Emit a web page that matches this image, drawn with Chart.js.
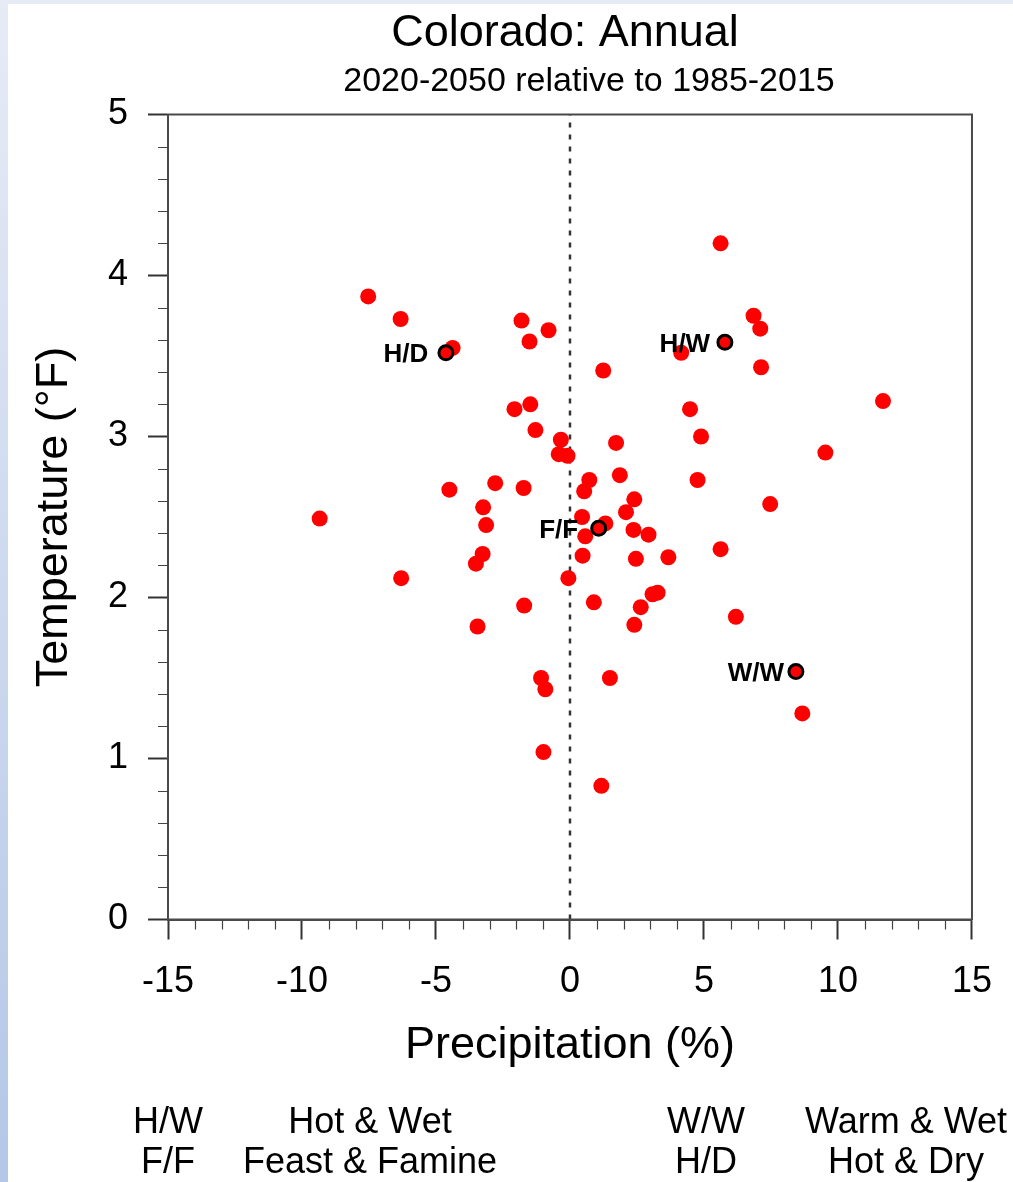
<!DOCTYPE html>
<html>
<head>
<meta charset="utf-8">
<script src="https://cdn.jsdelivr.net/npm/chart.js@4.4.1/dist/chart.umd.min.js"></script>
<style>
  html, body { margin: 0; padding: 0; background: #fff; }
  #wrap { position: relative; width: 1013px; height: 1182px; }
</style>
</head>
<body>
<div id="wrap"><canvas id="scatterChart" width="1013" height="1182"></canvas></div>
<script>
/**
 * Colorado annual change scatter — precip (%) vs temperature (°F)
 */

const FONT = "'Liberation Sans', Arial, Helvetica, sans-serif";

// model projections: precipitation change (%) and temperature change (°F)
const PRECIP = [
  -7.53, -6.32, -4.38, -1.81, -0.80, -1.51, 1.24, -2.07, -1.48, -1.29,
  -0.34, 5.62, 6.85, 7.10, 4.15, 7.13, 11.68, 4.48, 4.89, 1.72,
  -0.42, -0.09, 0.72, 0.53, -4.50, -2.79, -1.73, -3.24, -3.13, -9.34,
  0.45, 0.57, -3.26, -3.51, 0.47, -6.30, -0.06, -1.71, 0.89, -3.45,
  9.53, 1.86, 4.76, 2.40, 7.47, 2.09, 1.32, 2.37, 2.93, 2.46,
  3.67, 5.62, 3.27, 3.08, 2.64, 6.19, 2.40, -1.08, -0.92, 1.49,
  8.67, -0.99, 1.17,
];
const TEMP = [
  3.87, 3.73, 3.55, 3.72, 3.66, 3.59, 3.41, 3.17, 3.20, 3.04,
  2.98, 4.20, 3.75, 3.67, 3.52, 3.43, 3.22, 3.17, 3.00, 2.96,
  2.89, 2.88, 2.73, 2.66, 2.67, 2.71, 2.68, 2.56, 2.45, 2.49,
  2.50, 2.38, 2.27, 2.21, 2.26, 2.12, 2.12, 1.95, 1.97, 1.82,
  2.90, 2.76, 2.73, 2.61, 2.58, 2.53, 2.46, 2.42, 2.39, 2.24,
  2.25, 2.30, 2.03, 2.02, 1.94, 1.88, 1.83, 1.50, 1.43, 1.50,
  1.28, 1.04, 0.83,
];

// selected scenarios
const SCENARIO_LABELS = ['H/D', 'H/W', 'F/F', 'W/W'];
const SCENARIO_PRECIP = [-4.63, 5.78, 1.07, 8.43];
const SCENARIO_TEMP = [3.52, 3.585, 2.43, 1.54];

// bottom key
const KEY_ROW1 = ['H/W', 'Hot & Wet', 'W/W', 'Warm & Wet'];
const KEY_ROW2 = ['F/F', 'Feast & Famine', 'H/D', 'Hot & Dry'];

const X_MIN = -15, X_MAX = 15, X_STEP = 5, X_MINOR = 1;
const Y_MIN = 0, Y_MAX = 5, Y_STEP = 1, Y_MINOR = 0.2;

const pointData = PRECIP.map((p, i) => ({ x: p, y: TEMP[i] }));
const scenarioData = SCENARIO_PRECIP.map((p, i) => ({ x: p, y: SCENARIO_TEMP[i] }));

/* ---- page background strips ---- */
const backdrop = {
  id: 'backdrop',
  beforeDraw(chart) {
    const { ctx, width, height } = chart;
    ctx.save();
    ctx.fillStyle = '#ffffff';
    ctx.fillRect(0, 0, width, height);
    const g = ctx.createLinearGradient(0, 0, 0, height);
    g.addColorStop(0, '#e6ebf6');
    g.addColorStop(1, '#b4c7e8');
    ctx.fillStyle = g;
    ctx.fillRect(0, 0, 8, height);
    ctx.fillStyle = '#e6ebf6';
    ctx.fillRect(0, 0, width, 4);
    ctx.restore();
  },
};

/* ---- frame, minor ticks, texts ---- */
const decorations = {
  id: 'decorations',
  afterDatasetsDraw(chart) {
    const { ctx, chartArea: a, scales } = chart;
    const xs = scales.x, ys = scales.y;
    ctx.save();

    // frame
    ctx.strokeStyle = '#4a4a4a';
    ctx.lineWidth = 2;
    ctx.strokeRect(a.left, a.top, a.right - a.left, a.bottom - a.top);

    // minor ticks
    ctx.strokeStyle = '#444';
    ctx.lineWidth = 1.2;
    ctx.beginPath();
    for (let v = X_MIN; v <= X_MAX; v += X_MINOR) {
      if (v % X_STEP === 0) continue;
      const px = Math.round(xs.getPixelForValue(v)) + 0.5;
      ctx.moveTo(px, a.bottom);
      ctx.lineTo(px, a.bottom + 10);
    }
    for (let k = 0; k <= (Y_MAX - Y_MIN) / Y_MINOR; k++) {
      if (k % 5 === 0) continue;
      const py = Math.round(ys.getPixelForValue(Y_MIN + k * Y_MINOR)) + 0.5;
      ctx.moveTo(a.left - 10, py);
      ctx.lineTo(a.left, py);
    }
    ctx.stroke();

    // scenario labels
    ctx.fillStyle = '#000';
    ctx.font = `bold 26px ${FONT}`;
    ctx.textAlign = 'center';
    ctx.textBaseline = 'alphabetic';
    SCENARIO_LABELS.forEach((lab, i) => {
      const px = xs.getPixelForValue(SCENARIO_PRECIP[i]);
      const py = ys.getPixelForValue(SCENARIO_TEMP[i]);
      ctx.fillText(lab, px - 40, py + 9.5);
    });

    // titles
    ctx.font = `45px ${FONT}`;
    ctx.fillText('Colorado: Annual', 565, 46);
    ctx.font = `34px ${FONT}`;
    ctx.fillText('2020-2050 relative to 1985-2015', 589, 91);

    ctx.font = `45px ${FONT}`;
    ctx.fillText('Precipitation (%)', 570, 1058);
    ctx.save();
    ctx.translate(67, 517);
    ctx.rotate(-Math.PI / 2);
    ctx.fillText('Temperature (°F)', 0, 0);
    ctx.restore();

    // key
    ctx.font = `36px ${FONT}`;
    const keyX = [168, 370, 706, 906];
    KEY_ROW1.forEach((t, i) => ctx.fillText(t, keyX[i], 1133));
    KEY_ROW2.forEach((t, i) => ctx.fillText(t, keyX[i], 1173));

    ctx.restore();
  },
};

new Chart(document.getElementById('scatterChart').getContext('2d'), {
  type: 'scatter',
  data: {
    datasets: [
      {
        label: 'scenarios',
        data: scenarioData,
        backgroundColor: '#ff0000',
        borderColor: '#000000',
        borderWidth: 3,
        pointRadius: 7,
      },
      {
        label: 'models',
        data: pointData,
        backgroundColor: '#ff0000',
        borderColor: '#ff0000',
        borderWidth: 0,
        pointRadius: 8,
      },
      {
        type: 'line',
        label: 'zero',
        data: [{ x: 0, y: Y_MIN }, { x: 0, y: Y_MAX }],
        borderColor: '#333',
        borderWidth: 2.5,
        borderDash: [5, 7],
        pointRadius: 0,
        fill: false,
      },
    ],
  },
  options: {
    responsive: false,
    animation: false,
    layout: { autoPadding: false, padding: { left: 0, top: 114.5, right: 38, bottom: 182.5 } },
    plugins: {
      legend: { display: false },
      title: { display: false },
      tooltip: { enabled: false },
    },
    scales: {
      x: {
        type: 'linear',
        position: 'bottom',
        min: X_MIN,
        max: X_MAX,
        ticks: {
          stepSize: X_STEP,
          color: '#000',
          padding: 21,
          maxRotation: 0,
          font: { family: FONT, size: 36 },
        },
        grid: { drawOnChartArea: false, drawTicks: true, tickLength: 20, tickColor: '#333', tickWidth: 2 },
        border: { display: true, color: '#4a4a4a', width: 2 },
        afterFit: (s) => { s.height = 80; },
      },
      y: {
        type: 'linear',
        position: 'left',
        min: Y_MIN,
        max: Y_MAX,
        ticks: {
          stepSize: Y_STEP,
          color: '#000',
          padding: 20,
          font: { family: FONT, size: 36 },
        },
        grid: { drawOnChartArea: false, drawTicks: true, tickLength: 20, tickColor: '#333', tickWidth: 2 },
        border: { display: true, color: '#4a4a4a', width: 2 },
        afterFit: (s) => { s.width = 168; },
      },
    },
  },
  plugins: [backdrop, decorations],
});
</script>
</body>
</html>
